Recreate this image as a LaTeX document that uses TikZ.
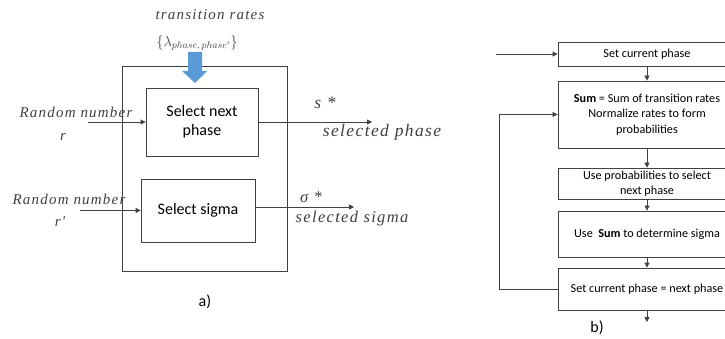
\documentclass[tikz,border=0pt]{standalone}
\usepackage{fontspec}
\setmainfont{Carlito}
\newfontfamily\spacedserif[LetterSpace=8]{Liberation Serif}
\usepackage{tikz}
\usetikzlibrary{positioning,calc,arrows.meta}

\definecolor{rateblue}{HTML}{5B9BD5}
\definecolor{linegray}{HTML}{404040}

\begin{document}
\begin{tikzpicture}[x=1pt,y=-1pt,
    blockA/.style={draw=linegray, thick, align=center, inner sep=0pt, font=\fontsize{16}{19}\selectfont},
    blockB/.style={draw=linegray, thick, align=center, inner sep=0pt, minimum width=178pt, font=\fontsize{12.2}{15.5}\selectfont},
    itlabel/.style={text=linegray, font=\spacedserif\itshape\fontsize{15}{18}\selectfont, inner sep=0pt},
    flow/.style={draw=linegray, thick, -{Triangle[length=5pt,width=5pt]}}]
    \useasboundingbox (0,0) rectangle (725,339);

    % a) outer box and the two selectors
    \node[blockA, minimum width=165pt, minimum height=205pt] (outer) at (204.5,168.5) {};
    \node[blockA, minimum width=112pt, minimum height=68pt] (nphase) at (202,122) {Select next\\phase};
    \node[blockA, minimum width=114pt, minimum height=63pt] (nsigma) at (198,210.5) {Select sigma};

    % transition rates input
    \node[itlabel] (rates) at (210,15) {transition rates};
    \node[text=linegray, inner sep=0pt, font=\fontsize{14}{16}\selectfont] (lambda) at (197,43) {$\{\lambda_{phase,\,phase'}\}$};
    \fill[rateblue] (188,52) -- (202,52) -- (202,71) -- (207,71) -- (195,83) -- (182,71) -- (188,71) -- cycle;

    % random number inputs
    \node[itlabel] (rnd1) at (76,112) {Random number};
    \node[itlabel] (r1) at (63,137) {r};
    \coordinate (in1) at (88,122);
    \draw[flow] (in1) -- (nphase.west);
    \node[itlabel] (rnd2) at (69,199) {Random number};
    \node[itlabel] (r2) at (60,222) {r'};
    \coordinate (in2) at (80,210.5);
    \draw[flow] (in2) -- (nsigma.west);

    % outputs
    \coordinate (out1) at (372,122);
    \draw[flow] (nphase.east) -- (out1);
    \node[itlabel, font=\spacedserif\itshape\fontsize{17.5}{21}\selectfont] (sstar) at (325,103) {s *};
    \node[itlabel, font=\spacedserif\itshape\fontsize{17.5}{21}\selectfont] (selphase) at (382,132) {selected phase};
    \coordinate (out2) at (354,207);
    \draw[flow] (nsigma.east |- out2) -- (out2);
    \node[itlabel, font=\spacedserif\itshape\fontsize{16.5}{19}\selectfont] (sigstar) at (311,197) {σ *};
    \node[itlabel, font=\spacedserif\itshape\fontsize{16.5}{19}\selectfont] (selsigma) at (352,219) {selected sigma};

    \node[font=\fontsize{16}{19}\selectfont] (capa) at (205,302) {a)};

    % b) flow chart
    \node[blockB, minimum height=24pt] (b1) at (647,54) {Set current phase};
    \node[blockB, minimum height=67pt] (b2) at (647,114.5) {\textbf{Sum} = Sum of transition rates\\Normalize rates to form\\probabilities};
    \node[blockB, minimum height=31pt] (b3) at (647,183.5) {Use probabilities to select\\next phase};
    \node[blockB, minimum height=46pt] (b4) at (647,234) {Use \ \textbf{Sum} to determine sigma};
    \node[blockB, minimum height=42pt] (b5) at (647,289) {Set current phase = next phase};

    \coordinate (in0) at (496,54);
    \coordinate (fb) at (499,114.5);
    \coordinate (out0) at (647,322);
    \draw[flow] (in0) -- (b1.west);
    \draw[flow] (b1) -- (b2);
    \draw[flow] (b2) -- (b3);
    \draw[flow] (b3) -- (b4);
    \draw[flow] (b4) -- (b5);
    \draw[flow] (b5) -- (out0);
    \draw[flow] (b5.west) -- (fb |- b5.west) -- (fb) -- (b2.west);

    \node[font=\fontsize{16}{19}\selectfont] (capb) at (597,328) {b)};
\end{tikzpicture}
\end{document}
